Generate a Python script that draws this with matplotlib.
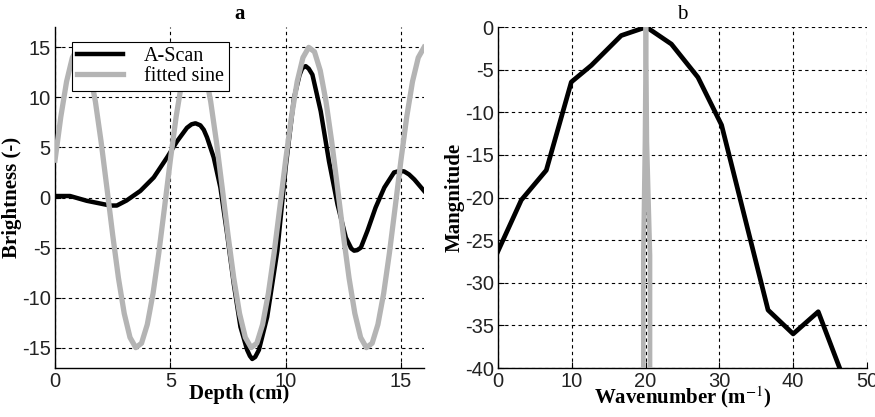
import matplotlib
matplotlib.use("Agg")
import matplotlib.pyplot as plt

plt.rcParams["axes.unicode_minus"] = False
plt.rcParams["mathtext.fontset"] = "stix"

# panel a : A-scan et sinus ajusté
depth_scan = [0, 0.65, 1.38, 2.39, 2.68, 3.1, 3.7, 4.28, 4.86, 5.29, 5.72, 5.92, 6.09, 6.3,
              6.45, 6.59, 6.88, 7.17, 7.46, 7.75, 8.04, 8.33, 8.45, 8.55, 8.68, 8.84, 9.2,
              9.64, 10.0, 10.36, 10.6, 10.72, 10.87, 11.0, 11.16, 11.52, 11.88, 12.25,
              12.61, 12.85, 12.97, 13.1, 13.26, 13.55, 13.9, 14.28, 14.7, 14.95, 15.14,
              15.35, 15.58, 16.0]
ascan = [0.15, 0.15, -0.33, -0.8, -0.8, -0.3, 0.66, 2.0, 4.0, 5.6, 6.95, 7.3, 7.4, 7.2,
         6.75, 6.0, 4.0, 1.0, -3.6, -8.6, -12.9, -15.2, -15.8, -16.1, -15.9, -15.2, -11.9,
         -5.3, 3.0, 9.9, 12.2, 12.9, 13.1, 12.85, 12.25, 8.6, 3.6, -0.7,
         -4.0, -5.1, -5.3, -5.25, -5.0, -3.3, -1.0, 1.0, 2.5, 2.65, 2.6,
         2.3, 1.8, 0.66]

depth_sine = [i * 0.25 for i in range(65)]
sine_cycle = [3.73, 8.04, 11.56, 13.95, 14.97, 14.53, 12.66, 9.56, 5.52, 0.94,
              -3.73, -8.04, -11.56, -13.95, -14.97, -14.53, -12.66, -9.56, -5.52, -0.94]
fitted = (sine_cycle * 4)[:65]

# panel b : spectre
wavenum = [0, 3.16, 6.55, 9.94, 12.65, 16.7, 20.1, 23.5, 27.1, 30.3, 36.6, 40.0, 43.4, 46.3]
magn = [-26.3, -20.3, -16.8, -6.45, -4.5, -1.0, 0, -2.0, -5.9, -11.5, -33.2, -36.0, -33.4, -40]

wavenum_sine = [19.7, 19.7, 19.92, 20.05, 20.18, 20.6, 20.6]
magn_sine = [-40, -26.8, -13.5, 0, -13.5, -26.8, -40]

black = "#000000"
grey = "#b4b4b4"
tickfont = "Liberation Sans"
serif = "Liberation Serif"

fig = plt.figure(figsize=(8.75, 4.17), dpi=100)
ax1 = fig.add_axes([0.0629, 0.1175, 0.4217, 0.8177])
ax2 = fig.add_axes([0.5691, 0.1175, 0.4217, 0.8177])

ax1.plot(depth_scan, ascan, color=black, lw=3.2, label="A-Scan", zorder=3)
ax1.plot(depth_sine, fitted, color=grey, lw=3.8, label="fitted sine", zorder=4)
ax1.set_xlim(0, 16)
ax1.set_ylim(-17, 17)
ax1.set_xticks([0, 5, 10, 15])
ax1.set_yticks([-15, -10, -5, 0, 5, 10, 15])
ax1.set_title("a", fontfamily=serif, fontweight="bold", fontsize=15, pad=6)
ax1.set_xlabel("Depth (cm)", fontfamily=serif, fontweight="bold", fontsize=15, labelpad=-5)
ax1.set_ylabel("Brightness (-)", fontfamily=serif, fontweight="bold", fontsize=15, labelpad=0)
leg = ax1.legend(loc="upper left", bbox_to_anchor=(0.046, 0.956), borderaxespad=0,
                 fancybox=False, edgecolor="black", framealpha=1,
                 prop={"family": serif, "size": 14.5}, handlelength=2.3,
                 borderpad=0.25, labelspacing=0.05, handletextpad=1.0)
leg.get_frame().set_linewidth(0.8)

ax2.plot(wavenum, magn, color=black, lw=3.4, zorder=3)
ax2.plot(wavenum_sine, magn_sine, color=grey, lw=3.4, zorder=4)
ax2.set_xlim(0, 50)
ax2.set_ylim(-40, 0)
ax2.set_xticks(range(0, 51, 10))
ax2.set_yticks(range(-40, 1, 5))
ax2.set_title("b", fontfamily=serif, fontsize=15, pad=6)
ax2.set_xlabel("Wavenumber (m$^{-1}$)", fontfamily=serif, fontweight="bold", fontsize=15, labelpad=-5)
ax2.set_ylabel("Mangnitude", fontfamily=serif, fontweight="bold", fontsize=15, labelpad=0)

for ax in (ax1, ax2):
    ax.grid(True, color="black", linestyle=(0, (3, 3)), linewidth=0.8)
    ax.spines["top"].set_visible(False)
    ax.spines["right"].set_visible(False)
    ax.spines["left"].set_linewidth(1.0)
    ax.spines["bottom"].set_linewidth(1.0)
    ax.tick_params(direction="in", length=4, width=0.8, pad=3)
    for lab in ax.get_xticklabels() + ax.get_yticklabels():
        lab.set_fontfamily(tickfont)
        lab.set_fontsize(14.5)
        lab.set_color("#222222")

fig.savefig("out.png", dpi=100)
